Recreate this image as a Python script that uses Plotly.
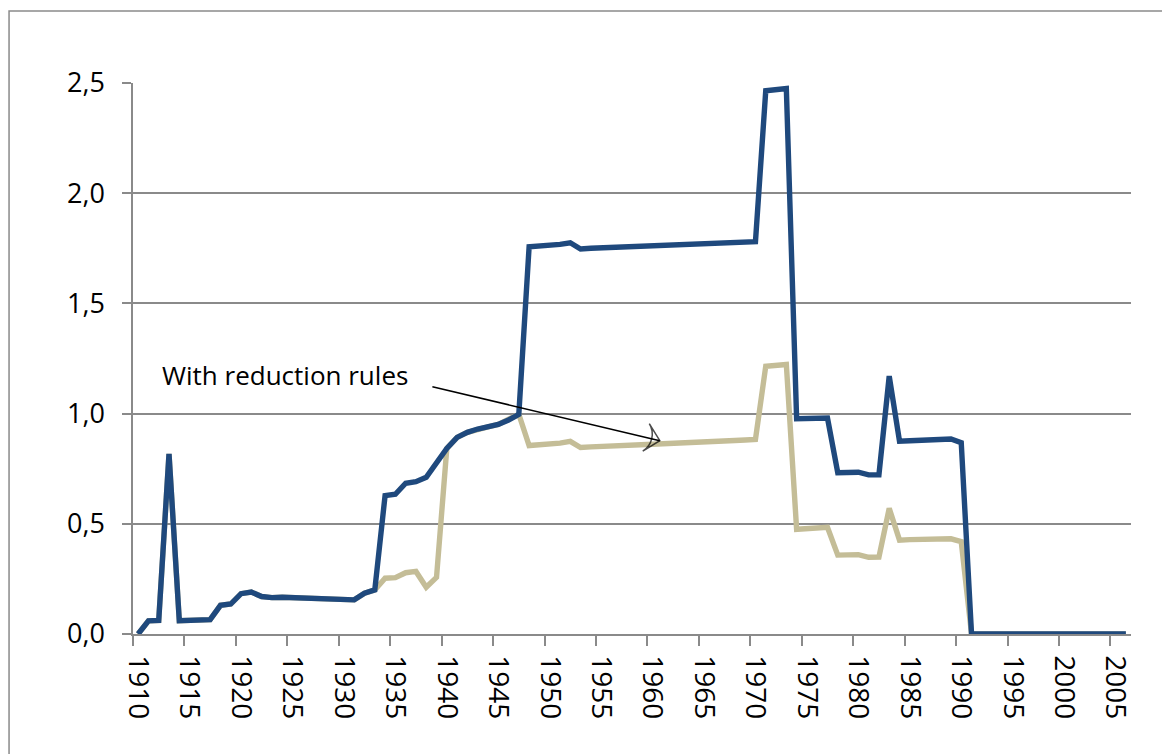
import plotly.graph_objects as go

# categories
YEARS = list(range(1910, 2007))

# series values
ALL_RULES = [
    0.000, 0.060, 0.062, 0.817, 0.060, 0.061, 0.062, 0.065, 0.130, 0.136,  # 1910-1919
    0.183, 0.190, 0.170, 0.165, 0.167, 0.166, 0.162, 0.163, 0.158, 0.157,  # 1920-1929
    0.156, 0.155, 0.185, 0.200, 0.628, 0.634, 0.684, 0.691, 0.711, 0.774,  # 1930-1939
    0.842, 0.892, 0.915, 0.930, 0.940, 0.951, 0.971, 0.997, 1.757, 1.760,  # 1940-1949
    1.762, 1.768, 1.775, 1.747, 1.750, 1.752, 1.755, 1.757, 1.759, 1.760,  # 1950-1959
    1.760, 1.763, 1.765, 1.768, 1.770, 1.771, 1.774, 1.776, 1.777, 1.778,  # 1960-1969
    1.780, 2.465, 2.470, 2.475, 0.977, 0.978, 0.979, 0.980, 0.732, 0.734,  # 1970-1979
    0.734, 0.722, 0.722, 1.170, 0.875, 0.877, 0.879, 0.881, 0.883, 0.885,  # 1980-1989
    0.868, 0.000, 0.000, 0.000, 0.000, 0.000, 0.000, 0.000, 0.000, 0.000,  # 1990-1999
    0.000, 0.000, 0.000, 0.000, 0.000, 0.000, 0.000,                       # 2000-2006
]

WITH_REDUCTION = [
    0.000, 0.060, 0.062, 0.817, 0.060, 0.061, 0.062, 0.065, 0.130, 0.136,  # 1910-1919
    0.183, 0.190, 0.170, 0.165, 0.167, 0.166, 0.162, 0.163, 0.158, 0.157,  # 1920-1929
    0.156, 0.155, 0.185, 0.200, 0.253, 0.256, 0.278, 0.284, 0.212, 0.257,  # 1930-1939
    0.842, 0.892, 0.915, 0.930, 0.940, 0.951, 0.971, 0.997, 0.855, 0.858,  # 1940-1949
    0.860, 0.866, 0.874, 0.846, 0.849, 0.852, 0.854, 0.856, 0.858, 0.860,  # 1950-1959
    0.861, 0.863, 0.866, 0.868, 0.870, 0.872, 0.874, 0.876, 0.878, 0.880,  # 1960-1969
    0.883, 1.215, 1.220, 1.223, 0.475, 0.478, 0.481, 0.484, 0.358, 0.359,  # 1970-1979
    0.360, 0.348, 0.349, 0.570, 0.426, 0.428, 0.429, 0.430, 0.431, 0.432,  # 1980-1989
    0.419, 0.000, 0.000, 0.000, 0.000, 0.000, 0.000, 0.000, 0.000, 0.000,  # 1990-1999
    0.000, 0.000, 0.000, 0.000, 0.000, 0.000, 0.000,                       # 2000-2006
]

LABEL_YEARS = [1910, 1915, 1920, 1925, 1930, 1935, 1940, 1945, 1950, 1955,
               1960, 1965, 1970, 1975, 1980, 1985, 1990, 1995, 2000, 2005]
Y_TICKS = [0.0, 0.5, 1.0, 1.5, 2.0, 2.5]

BLUE = "#1F497D"
TAN = "#C4BD97"
GRID = "#8A8A8A"
FONT = "'Open Sans', Lato, sans-serif"

fig = go.Figure()
# tan underneath, blue on top (as in the Excel original)
fig.add_trace(go.Scatter(
    x=YEARS, y=WITH_REDUCTION, mode="lines",
    line=dict(color=TAN, width=5.4),
    name="With reduction rules",
))
fig.add_trace(go.Scatter(
    x=YEARS, y=ALL_RULES, mode="lines",
    line=dict(color=BLUE, width=5.4),
    name="Without reduction rules",
))

# callout arrow: thin line with an open chevron at the tip
fig.add_trace(go.Scatter(
    x=[1938.6, 1960.7], y=[1.122, 0.877], mode="lines+markers",
    line=dict(color="black", width=1.5),
    marker=dict(symbol=["line-ew", "arrow-wide-open"], size=[0, 20],
                angleref="previous", color="black",
                line=dict(color="black", width=1.5)),
    hoverinfo="skip",
))
fig.add_annotation(
    x=1924.3, y=1.175, text="With reduction rules",
    showarrow=False, xanchor="center", yanchor="middle",
    font=dict(family=FONT, size=26, color="black"),
)

# outer chart frame
fig.add_shape(
    type="rect", xref="paper", yref="paper",
    x0=-0.1242, x1=1.3, y0=-0.6, y1=1.1307,
    line=dict(color=GRID, width=1.5), fillcolor="rgba(0,0,0,0)",
    layer="below",
)

# page body has an 8px margin, so shift the plot area back by that much
fig.update_layout(
    width=1170, height=754,
    margin=dict(l=125, r=47, t=75, b=128),
    plot_bgcolor="white", paper_bgcolor="white",
    separators=", ",
    showlegend=False,
    font=dict(family=FONT, size=27, color="black"),
)
fig.update_xaxes(
    range=[1909.5, 2006.5],
    tickmode="array", tickvals=LABEL_YEARS, ticktext=[str(v) for v in LABEL_YEARS],
    tickangle=90,
    ticks="outside", ticklen=10, tickcolor="rgba(0,0,0,0)",
    minor=dict(tickmode="array", tickvals=[v - 0.5 for v in LABEL_YEARS],
               ticks="outside", ticklen=10, tickcolor=GRID, tickwidth=1.5),
    showline=True, linecolor=GRID, linewidth=1.5,
    showgrid=False, zeroline=False,
    ticklabelstandoff=4,
    tickfont=dict(family=FONT, size=28, color="black"),
)
fig.update_yaxes(
    range=[0, 2.5],
    tickmode="array", tickvals=Y_TICKS, tickformat=".1f",
    ticks="outside", ticklen=9, tickcolor=GRID, tickwidth=1.5,
    showline=True, linecolor=GRID, linewidth=1.5,
    showgrid=True, gridcolor=GRID, gridwidth=1.5,
    zeroline=False,
    ticklabelstandoff=12,
    tickfont=dict(family=FONT, size=27, color="black"),
)

fig.write_html("out.html")
